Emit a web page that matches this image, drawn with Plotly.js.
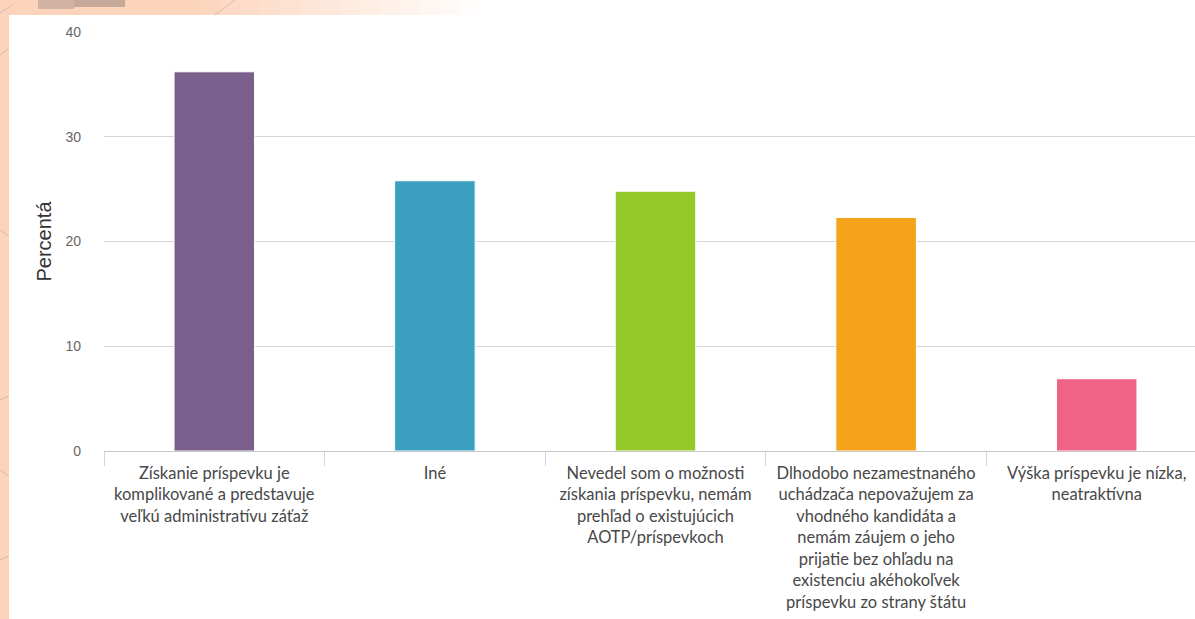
<!DOCTYPE html>
<html><head><meta charset="utf-8">
<script src="https://cdn.plot.ly/plotly-3.0.1.min.js"></script>
<style>html,body{margin:0;padding:0;background:#fcd4bc;overflow:hidden;}#chart{width:1207px;height:619px;}</style>
</head><body><div id="chart"></div>
<script>
var categories = [
  "Získanie príspevku je<br>komplikované a predstavuje<br>veľkú administratívu záťaž",
  "Iné",
  "Nevedel som o možnosti<br>získania príspevku, nemám<br>prehľad o existujúcich<br>AOTP/príspevkoch",
  "Dlhodobo nezamestnaného<br>uchádzača nepovažujem za<br>vhodného kandidáta a<br>nemám záujem o jeho<br>prijatie bez ohľadu na<br>existenciu akéhokoľvek<br>príspevku zo strany štátu",
  "Výška príspevku je nízka,<br>neatraktívna"
];
var values = [36.2, 25.8, 24.8, 22.3, 6.9];
var colors = ["#7a5e8b", "#3ca0c1", "#95c929", "#f4a31a", "#ef6386"];
var yTitle = "Percentá";

var W = 1207, H = 619, L = 104, T = 32, B = 168;
var pw = W - L, ph = H - T - B;
function px(x) { return (x - L) / pw; }
function py(y) { return (H - B - y) / ph; }

var shapes = [];
// top strip gradient (peach fading to white)
var steps = 16;
for (var i = 0; i < steps; i++) {
  var f = i / (steps - 1);
  var r = Math.round(252 + (255 - 252) * f), g = Math.round(212 + (255 - 212) * f), b = Math.round(188 + (255 - 188) * f);
  var xa = 180 + i * 20, xb = (i === steps - 1) ? W : xa + 20;
  shapes.push({type: "rect", xref: "paper", yref: "paper", x0: px(xa), x1: px(xb), y0: py(15), y1: py(0),
    fillcolor: "rgb(" + r + "," + g + "," + b + ")", line: {width: 0}, layer: "below"});
}
shapes.push({type: "rect", xref: "paper", yref: "paper", x0: px(9), x1: 1.0, y0: py(H), y1: py(15),
  fillcolor: "#ffffff", line: {width: 0}, layer: "below"});
shapes.push({type: "rect", xref: "paper", yref: "paper", x0: px(38), x1: px(74), y0: py(9), y1: py(0),
  fillcolor: "#d1b3a3", line: {width: 0}, layer: "below"});
shapes.push({type: "rect", xref: "paper", yref: "paper", x0: px(74), x1: px(125), y0: py(7), y1: py(0),
  fillcolor: "#c6a999", line: {width: 0}, layer: "below"});
// faint decorative diagonal lines on background
var deco = [[0, 55, 9, 48], [0, 230, 9, 236], [0, 400, 9, 396], [0, 470, 9, 476], [0, 560, 9, 556], [215, 15, 235, 0], [0, 13, 12, 5]];
deco.forEach(function (d) {
  shapes.push({type: "line", xref: "paper", yref: "paper", x0: px(d[0]), y0: py(d[1]), x1: px(d[2]), y1: py(d[3]),
    line: {color: "#d9b8a6", width: 1}, layer: "below"});
});

var trace = {
  type: "bar", x: categories, y: values,
  marker: {color: colors, line: {color: "#ffffff", width: 1}},
  hoverinfo: "x+y"
};
var layout = {
  width: W, height: H,
  margin: {l: L, r: 0, t: T, b: B, pad: 0},
  paper_bgcolor: "#fcd4bc", plot_bgcolor: "rgba(0,0,0,0)",
  bargap: 0.635, showlegend: false,
  font: {family: "Lato, 'Open Sans', sans-serif"},
  xaxis: {
    type: "category", tickson: "boundaries", ticks: "outside", ticklen: 14,
    tickcolor: "#ccd6eb", showline: true, linecolor: "#c8c8c8", linewidth: 1,
    showgrid: false, tickfont: {family: "Lato, sans-serif", size: 16.5, color: "#484848"},
    tickangle: 0, automargin: false, ticklabelstandoff: 7
  },
  yaxis: {
    range: [0, 40], tickvals: [0, 10, 20, 30, 40], showgrid: true, gridcolor: "#d6d6d6",
    zeroline: false, ticks: "", ticklabelstandoff: 22,
    tickfont: {family: "Liberation Sans, Arial, sans-serif", size: 14, color: "#666"},
    title: {text: yTitle, font: {family: "Liberation Sans, Arial, sans-serif", size: 20, color: "#333"}, standoff: 8},
    automargin: false
  },
  shapes: shapes
};
Plotly.newPlot("chart", [trace], layout, {displayModeBar: false});
</script></body></html>
